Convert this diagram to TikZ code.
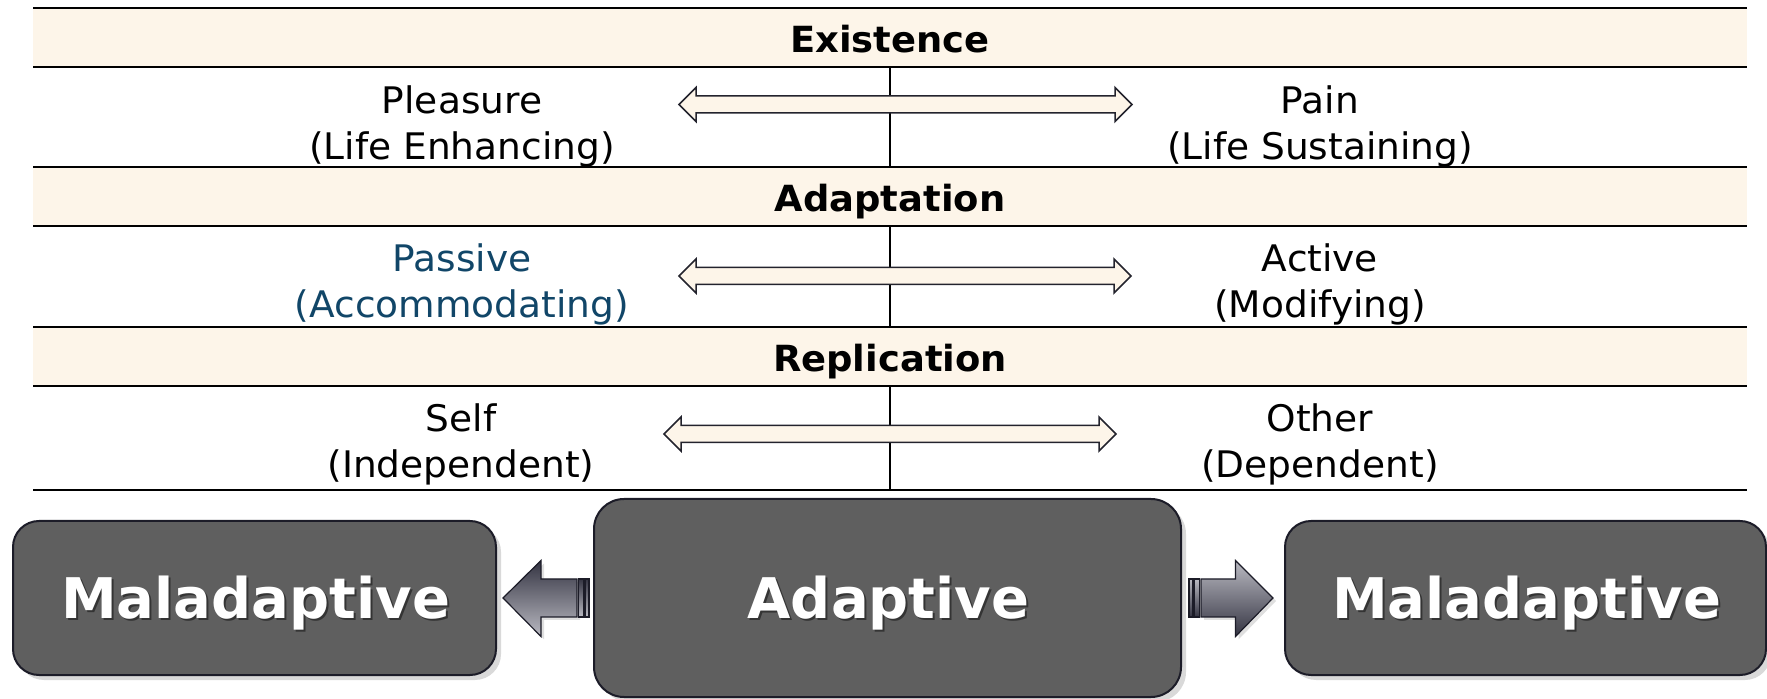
\documentclass[tikz,border=0pt]{standalone}
\usepackage{fontspec}
\setmainfont{DejaVu Sans}
\newfontfamily\widesans[FakeStretch=1.025]{DejaVu Sans}
\usetikzlibrary{shadows,calc}
\definecolor{cream}{RGB}{253,245,233}
\definecolor{passblue}{RGB}{17,70,104}
\definecolor{boxgray}{RGB}{95,95,95}
\definecolor{boxedge}{RGB}{28,28,40}
\definecolor{arrlight}{RGB}{186,186,194}
\definecolor{arrdark}{RGB}{52,52,66}
\definecolor{arroutline}{RGB}{35,35,45}
\newcommand\DoubleArr[2]{%
  \draw[dblarr] (#1) -- ++(17,-17) -- ++(0,8.5) -- ($(#2)+(-17,-8.5)$) -- ++(0,-8.5) -- (#2)
     -- ++(-17,17) -- ++(0,-8.5) -- ($(#1)+(17,8.5)$) -- ++(0,8.5) -- cycle;}
\tikzset{
  band/.style={fill=cream},
  hline/.style={line width=1.3pt, black},
  vline/.style={line width=1pt, black},
  dblarr/.style={fill=cream, draw=arroutline, line width=0.75pt, line join=miter},
  hdr/.style={font=\widesans\fontsize{18pt}{22pt}\selectfont\bfseries, anchor=base, inner sep=0pt},
  lbl/.style={font=\widesans\fontsize{18.3pt}{22pt}\selectfont, anchor=base, inner sep=0pt},
  bigbox/.style={rectangle, rounded corners=13pt, fill=boxgray, draw=boxedge, line width=1pt,
     drop shadow={opacity=0.3, shadow xshift=2.5pt, shadow yshift=-2.5pt}},
  boxtxt/.style={font=\fontsize{28pt}{34pt}\selectfont\bfseries, text=white, anchor=base, inner sep=0pt},
  boxtxtsh/.style={font=\fontsize{28pt}{34pt}\selectfont\bfseries, text=black, opacity=0.45, anchor=base, inner sep=0pt},
  blkright/.style={draw=boxedge, line width=0.6pt, top color=arrlight, bottom color=arrdark},
  blkleft/.style={draw=boxedge, line width=0.6pt, top color=arrdark, bottom color=arrlight},
  blkshadow/.style={drop shadow={opacity=0.25, shadow xshift=1.5pt, shadow yshift=-1.5pt}},
}
\begin{document}
\begin{tikzpicture}[x=0.5pt,y=-0.5pt]
\useasboundingbox (0,0) rectangle (1767,699);
% header bands
\fill[band] (33,8) rectangle (1747,67);
\fill[band] (33,167) rectangle (1747,226);
\fill[band] (33,327) rectangle (1747,386);
% horizontal rules
\foreach \yy in {8,67,167,226,327,386,490} {\draw[hline] (33,\yy) -- (1747,\yy);}
% centre rules
\draw[vline] (890,67) -- (890,167);
\draw[vline] (890,226) -- (890,327);
\draw[vline] (890,386) -- (890,490);
% headers
\node[hdr] (hexist) at (890,53) {Existence};
\node[hdr] (hadapt) at (890,212) {Adaptation};
\node[hdr] (hrepl) at (890,371.5) {Replication};
% double arrows
\coordinate (e1L) at (679,104.5); \coordinate (e1R) at (1132,104.5);
\coordinate (e2L) at (679,276); \coordinate (e2R) at (1131,276);
\coordinate (e3L) at (664,434); \coordinate (e3R) at (1116,434);
\DoubleArr{e1L}{e1R}
\DoubleArr{e2L}{e2R}
\DoubleArr{e3L}{e3R}
% row labels
\node[lbl] (pleas) at (462,114) {Pleasure};
\node[lbl] (pleasb) at (462,160) {(Life Enhancing)};
\node[lbl] (pain) at (1320,114) {Pain};
\node[lbl] (painb) at (1320,160) {(Life Sustaining)};
\node[lbl, text=passblue] (pass) at (462,272) {Passive};
\node[lbl, text=passblue] (passb) at (462,318) {(Accommodating)};
\node[lbl] (act) at (1320,272) {Active};
\node[lbl] (actb) at (1320,318) {(Modifying)};
\node[lbl] (self) at (461,432) {Self};
\node[lbl] (selfb) at (461,478) {(Independent)};
\node[lbl] (oth) at (1320,432) {Other};
\node[lbl] (othb) at (1320,478) {(Dependent)};
% bottom boxes
\node[bigbox, minimum width=241.5pt, minimum height=77pt] (malL) at (254.5,598) {};
\node[bigbox, rounded corners=15pt, minimum width=293.5pt, minimum height=99pt] (adapt) at (887.5,598) {};
\node[bigbox, minimum width=240.5pt, minimum height=77pt] (malR) at (1525.5,598) {};
\node[boxtxtsh] (malLs) at ($(malL.center)+(3,23)$) {Maladaptive};
\node[boxtxt] (malLt) at ($(malL.center)+(1,20)$) {Maladaptive};
\node[boxtxtsh] (adapts) at ($(adapt.center)+(3,23)$) {Adaptive};
\node[boxtxt] (adaptt) at ($(adapt.center)+(1,20)$) {Adaptive};
\node[boxtxtsh] (malRs) at ($(malR.center)+(3,23)$) {Maladaptive};
\node[boxtxt] (malRt) at ($(malR.center)+(1,20)$) {Maladaptive};
% left striped block arrow (Adaptive -> left Maladaptive)
\coordinate (laTip) at ($(malL.east)+(6,0)$);
\coordinate (laTail) at ($(adapt.west)+(-4,0)$);
\path[blkleft, blkshadow] (laTip) -- ++(38,-37.5) -- ++(0,18.5) -- ($(laTail)+(-12,-19)$)
   -- ($(laTail)+(-12,19)$) -- ($(laTip)+(38,19)$) -- ++(0,19.5) -- cycle;
\path[blkleft] ($(laTail)+(-10.5,-19)$) rectangle ($(laTail)+(-5.5,19)$);
\path[blkleft] ($(laTail)+(-4,-19)$) rectangle ($(laTail)+(0,19)$);
% right striped block arrow (Adaptive -> right Maladaptive)
\coordinate (raTail) at ($(adapt.east)+(7,0)$);
\coordinate (raTip) at ($(malR.west)+(-11,0)$);
\path[blkright, blkshadow] (raTip) -- ++(-37.5,-37.5) -- ++(0,18.5) -- ($(raTail)+(12,-19)$)
   -- ($(raTail)+(12,19)$) -- ($(raTip)+(-37.5,19)$) -- ++(0,19.5) -- cycle;
\path[blkright] ($(raTail)+(5.5,-19)$) rectangle ($(raTail)+(10.5,19)$);
\path[blkright] ($(raTail)+(0,-19)$) rectangle ($(raTail)+(4,19)$);
\end{tikzpicture}
\end{document}
